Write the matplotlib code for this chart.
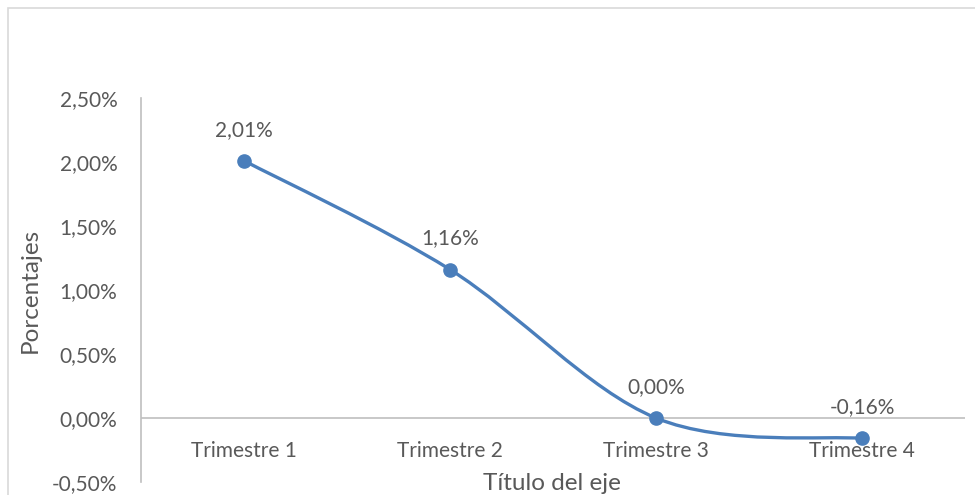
import numpy as np
import matplotlib
matplotlib.use("Agg")
import matplotlib.pyplot as plt
from matplotlib.path import Path
from matplotlib.patches import PathPatch, Rectangle

plt.rcParams["font.family"] = ["Lato", "DejaVu Sans"]

# Data
categories = ["Trimestre 1", "Trimestre 2", "Trimestre 3", "Trimestre 4"]
values = [2.01, 1.16, 0.00, -0.16]
value_labels = ["2,01%", "1,16%", "0,00%", "-0,16%"]
yticks = [-0.5, 0.0, 0.5, 1.0, 1.5, 2.0, 2.5]
ytick_labels = ["-0,50%", "0,00%", "0,50%", "1,00%", "1,50%", "2,00%", "2,50%"]

LINE = "#4A7EBB"
TEXT = "#595959"
AXIS = "#BFBFBF"

W, H = 975, 495
fig = plt.figure(figsize=(W / 100, H / 100), dpi=100)
fig.patch.set_facecolor("white")

# chart border
fig.patches.append(Rectangle((8 / W, -0.1), 2, 1 + 0.1 - 8 / H,
                             transform=fig.transFigure, fill=False,
                             edgecolor="#D9D9D9", lw=1.2))

ax = fig.add_axes([141 / W, (H - 482) / H, (965 - 141) / W, (482 - 98) / H])
x = np.arange(len(values))

# smoothed line (Catmull-Rom style bezier, like Excel's smooth line)
pts = list(zip(x.astype(float), values))
verts = [pts[0]]
codes = [Path.MOVETO]
n = len(pts)
for i in range(n - 1):
    p0 = np.array(pts[max(i - 1, 0)])
    p1 = np.array(pts[i])
    p2 = np.array(pts[i + 1])
    p3 = np.array(pts[min(i + 2, n - 1)])
    c1 = p1 + (p2 - p0) / 6
    c2 = p2 - (p3 - p1) / 6
    verts += [tuple(c1), tuple(c2), tuple(p2)]
    codes += [Path.CURVE4] * 3
ax.add_patch(PathPatch(Path(verts, codes), facecolor="none", edgecolor=LINE,
                       lw=2.4, capstyle="round", zorder=3))
ax.plot(x, values, "o", color=LINE, ms=9.5, zorder=4)

for xi, v, lab in zip(x, values, value_labels):
    ax.annotate(lab, xy=(xi, v), xytext=(0, 31), textcoords="offset pixels",
                ha="center", va="center", fontsize=15, color=TEXT)

for xi, lab in zip(x, categories):
    ax.annotate(lab, xy=(xi, 0), xytext=(0, -33), textcoords="offset pixels",
                ha="center", va="center", fontsize=15, color=TEXT)

ax.axhline(0, color=AXIS, lw=1.2, zorder=1)
ax.set_xlim(-0.5, 3.5)
ax.set_ylim(-0.5, 2.5)
ax.set_xticks([])
ax.set_yticks(yticks)
ax.set_yticklabels(ytick_labels, fontsize=15, color=TEXT)
ax.tick_params(axis="y", length=0, pad=17)
for s in ["top", "right", "bottom"]:
    ax.spines[s].set_visible(False)
ax.spines["left"].set_color(AXIS)
ax.spines["left"].set_linewidth(1.2)

fig.text(30 / W, 1 - 290 / H, "Porcentajes", rotation=90, ha="center",
         va="center", fontsize=17.5, color=TEXT)
fig.text(552 / W, 1 - 483 / H, "Título del eje", ha="center", va="center",
         fontsize=17.5, color=TEXT)

fig.savefig("out.png", dpi=100)
